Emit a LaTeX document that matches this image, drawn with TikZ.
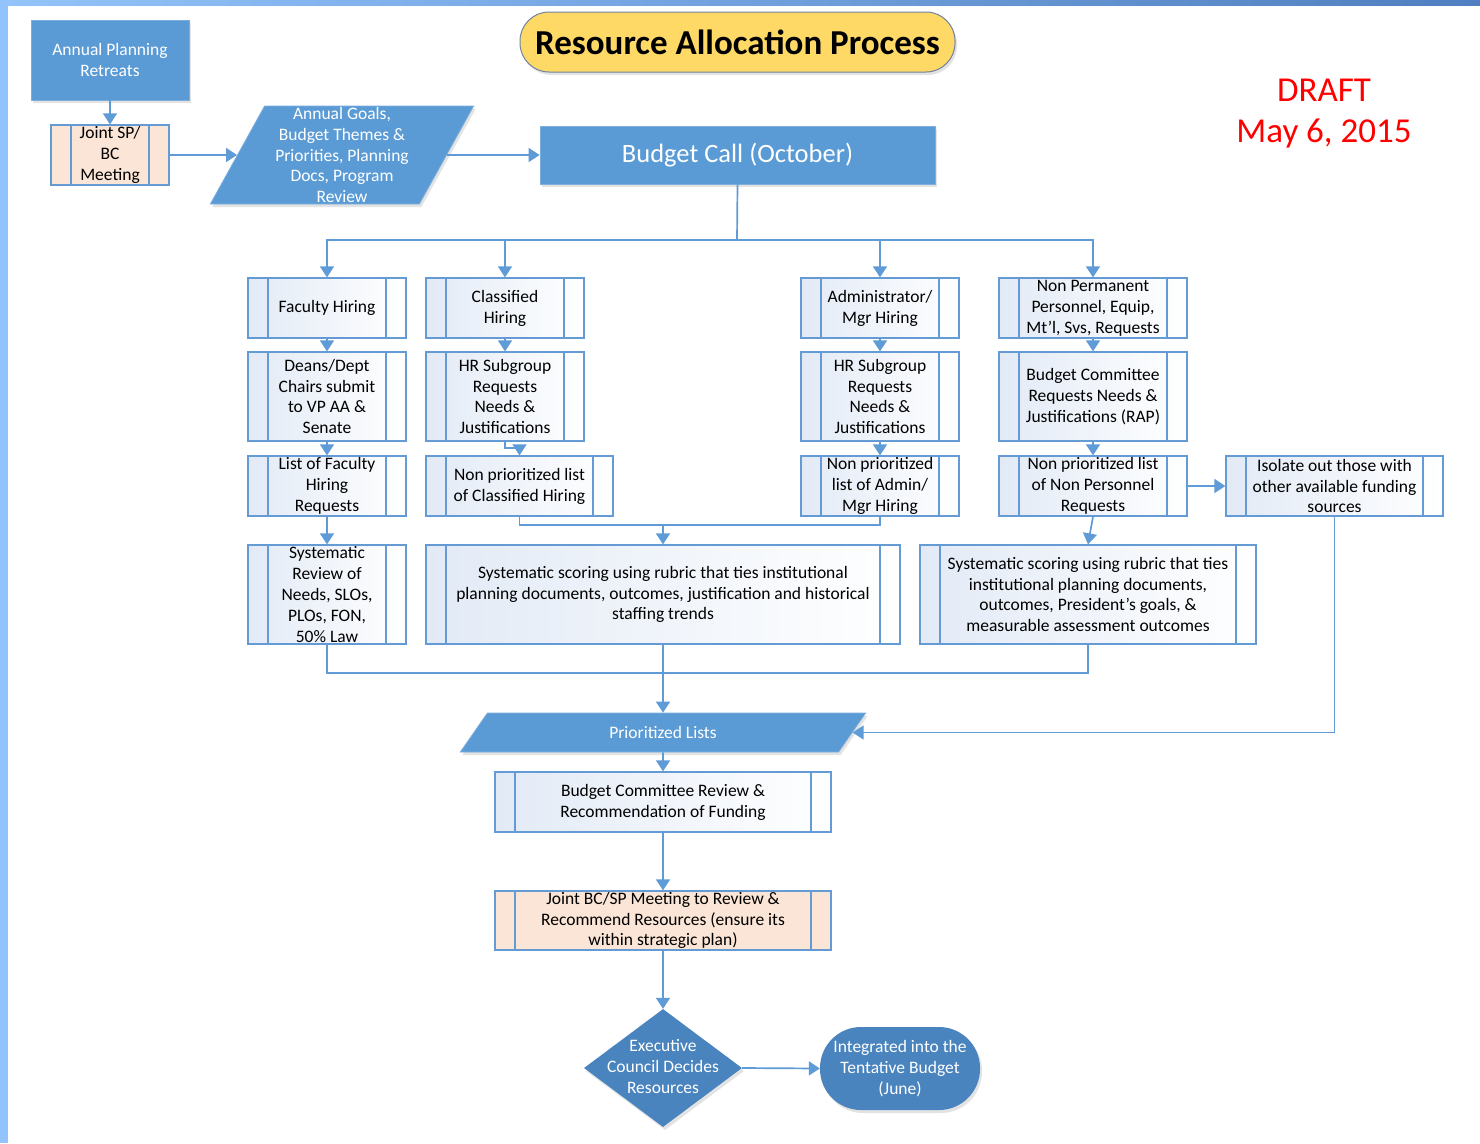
\documentclass[tikz,border=0pt]{standalone}
\usepackage{fontspec}
\setmainfont{Carlito}
\usetikzlibrary{arrows.meta,shapes.geometric,shadows,calc}
\definecolor{mblue}{RGB}{91,155,213}
\definecolor{dblue}{RGB}{74,132,190}
\definecolor{peach}{RGB}{251,229,214}
\definecolor{lineblue}{RGB}{95,155,215}
\definecolor{boxedge}{RGB}{100,155,212}
\definecolor{shadeblue}{RGB}{226,234,246}
\definecolor{titleyellow}{RGB}{255,217,102}
\definecolor{titleedge}{RGB}{110,130,160}
\definecolor{stripl}{RGB}{146,195,250}
\definecolor{stripr}{RGB}{79,127,192}
\definecolor{draftred}{RGB}{255,0,0}
\begin{document}
\begin{tikzpicture}[x=1pt,y=-1pt,
  conn/.style={draw=lineblue, line width=1.7pt},
  arr/.style={conn, -{Triangle[width=14pt,length=11pt]}},
  base/.style={font=\fontsize{17.5}{20.9}\selectfont, align=center, inner sep=0pt},
  ppbox/.style={base, draw=boxedge, line width=1.3pt,
    path picture={\draw[boxedge,line width=1.3pt]
      ([xshift=#1]path picture bounding box.north west) -- ([xshift=#1]path picture bounding box.south west)
      ([xshift=-#1]path picture bounding box.north east) -- ([xshift=-#1]path picture bounding box.south east);}},
  ppbox/.default=20pt,
  gbox/.style={ppbox=#1, left color=shadeblue, right color=white},
  gbox/.default=20pt,
  pbox/.style={ppbox=#1, fill=peach},
  pbox/.default=20pt,
  soft/.style={drop shadow={opacity=0.18, shadow xshift=2pt, shadow yshift=-3pt, fill=black!60}},
  bluebox/.style={base, fill=mblue, draw=mblue!80!white, line width=0.8pt, text=white, soft},
  para/.style={bluebox, trapezium, trapezium stretches=true},
]
% page
\useasboundingbox (0,0) rectangle (1480,1143);
\fill[white] (0,0) rectangle (1480,1143);
\fill[stripl] (0,0) rectangle (8,1143);
\shade[left color=stripl, right color=stripr] (0,0) rectangle (1480,5);

% title and draft mark
\node[base, font=\bfseries\fontsize{35}{38}\selectfont, fill=titleyellow, draw=titleedge, line width=1pt,
  rounded corners=29pt, minimum width=435pt, minimum height=60pt, soft] (title) at (737.5,42) {Resource Allocation Process};
\node[base, font=\fontsize{35}{41}\selectfont, text=draftred] (draft) at (1324,114) {DRAFT\\May 6, 2015};

% top row
\node[bluebox, minimum width=158pt, minimum height=80pt] (apr) at (110,60) {Annual Planning\\Retreats};
\node[pbox, minimum width=118pt, minimum height=60pt] (jsp) at (110,155) {Joint SP/\\BC\\Meeting};
\node[para, trapezium left angle=64, trapezium right angle=116, minimum width=264pt, minimum height=98pt] (goals) at (342,155)
  {Annual Goals,\\Budget Themes \&\\Priorities, Planning\\Docs, Program\\Review};
\node[bluebox, font=\fontsize{26.5}{30}\selectfont, minimum width=395pt, minimum height=58pt] (bc) at (737.5,155) {Budget Call (October)};

\draw[arr] (apr.south) -- (jsp.north);
\draw[arr] (jsp.east) -- (goals.left side);
\draw[arr] (goals.right side) -- (bc.west);

% row 1
\node[gbox, minimum width=158pt, minimum height=60pt] (fac1) at (327,308) {Faculty Hiring};
\node[gbox, minimum width=158pt, minimum height=60pt] (cls1) at (505,308) {Classified\\Hiring};
\node[gbox, minimum width=158pt, minimum height=60pt] (adm1) at (880,308) {Administrator/\\Mgr Hiring};
\node[gbox, minimum width=188pt, minimum height=60pt] (np1) at (1093,308) {Non Permanent\\Personnel, Equip,\\Mt’l, Svs, Requests};
% row 2
\node[gbox, minimum width=158pt, minimum height=89pt] (fac2) at (327,396.5) {Deans/Dept\\Chairs submit\\to VP AA \&\\Senate};
\node[gbox, minimum width=158pt, minimum height=89pt] (cls2) at (505,396.5) {HR Subgroup\\Requests\\Needs \&\\Justifications};
\node[gbox, minimum width=158pt, minimum height=89pt] (adm2) at (880,396.5) {HR Subgroup\\Requests\\Needs \&\\Justifications};
\node[gbox, minimum width=188pt, minimum height=89pt] (np2) at (1093,396.5) {Budget Committee\\Requests Needs \&\\Justifications (RAP)};
% row 3
\node[gbox, minimum width=158pt, minimum height=60pt] (fac3) at (327,486) {List of Faculty\\Hiring\\Requests};
\node[gbox, minimum width=187pt, minimum height=60pt] (cls3) at (519.5,486) {Non prioritized list\\of Classified Hiring};
\node[gbox, minimum width=158pt, minimum height=60pt] (adm3) at (880,486) {Non prioritized\\list of Admin/\\Mgr Hiring};
\node[gbox, minimum width=188pt, minimum height=60pt] (np3) at (1093,486) {Non prioritized list\\of Non Personnel\\Requests};
\node[gbox, minimum width=217pt, minimum height=60pt] (iso) at (1334.5,486) {Isolate out those with\\other available funding\\sources};
% row 4
\node[gbox, minimum width=158pt, minimum height=99pt] (fr) at (327,594.5) {Systematic\\Review of\\Needs, SLOs,\\PLOs, FON,\\50\% Law};
\node[gbox, minimum width=474pt, minimum height=99pt] (sm) at (663,594.5) {Systematic scoring using rubric that ties institutional\\planning documents, outcomes, justification and historical\\staffing trends};
\node[gbox, minimum width=336pt, minimum height=99pt] (sr) at (1088,594.5) {Systematic scoring using rubric that ties\\institutional planning documents,\\outcomes, President’s goals, \&\\measurable assessment outcomes};

% prioritized lists and below
\node[para, trapezium left angle=56, trapezium right angle=124, minimum width=406pt, minimum height=39pt] (pl) at (663,732.5) {Prioritized Lists};
\node[gbox, minimum width=336pt, minimum height=60pt] (bcr) at (663,802) {Budget Committee Review \&\\Recommendation of Funding};
\node[pbox, minimum width=336pt, minimum height=59pt] (jbc) at (663,920.5) {Joint BC/SP Meeting to Review \&\\Recommend Resources (ensure its\\within strategic plan)};
\node[base, diamond, fill=dblue, text=white, minimum width=158pt, minimum height=118pt, soft] (ec) at (663,1068)
  {\makebox[0pt]{\begin{tabular}{@{}c@{}}Executive\\Council Decides\\Resources\end{tabular}}};
\node[base, fill=dblue, text=white, rounded corners=41pt, minimum width=160pt, minimum height=83pt, soft] (itb) at (900,1068.5)
  {Integrated into the\\Tentative Budget\\(June)};

% connectors: budget call branches
\coordinate (bj) at (737,240);
\draw[conn] (bc.south) -- (bj);
\draw[arr] (bj) -| (fac1.north);
\draw[arr] (bj) -| (cls1.north);
\draw[arr] (bj) -| (adm1.north);
\draw[arr] (bj) -| (np1.north);

% column flows
\draw[arr] (fac1.south) -- (fac2.north);
\draw[arr] (fac2.south) -- (fac3.north);
\draw[arr] (fac3.south) -- (fr.north);
\draw[arr] (cls1.south) -- (cls2.north);
\draw[arr] (cls2.south) -- ++(0,6) -| (cls3.north);
\draw[arr] (adm1.south) -- (adm2.north);
\draw[arr] (adm2.south) -- (adm3.north);
\draw[arr] (np1.south) -- (np2.north);
\draw[arr] (np2.south) -- (np3.north);
\draw[arr] (np3.south) -- (sr.north);
\draw[arr] (np3.east) -- (iso.west);

\coordinate (cj) at (663,525);
\draw[conn] (cls3.south) |- (cj);
\draw[conn] (adm3.south) |- (cj);
\draw[arr] (cj) -- (sm.north);

\coordinate (mj) at (663,673);
\draw[conn] (fr.south) |- (mj);
\draw[conn] (sr.south) |- (mj);
\draw[arr] (sm.south) -- (pl.north);
\draw[arr] (iso.south) |- (pl.right side);

\draw[arr] (pl.south) -- (bcr.north);
\draw[arr] (bcr.south) -- (jbc.north);
\draw[arr] (jbc.south) -- (ec.north);
\draw[arr] (ec.east) -- (itb.west);
\end{tikzpicture}
\end{document}
